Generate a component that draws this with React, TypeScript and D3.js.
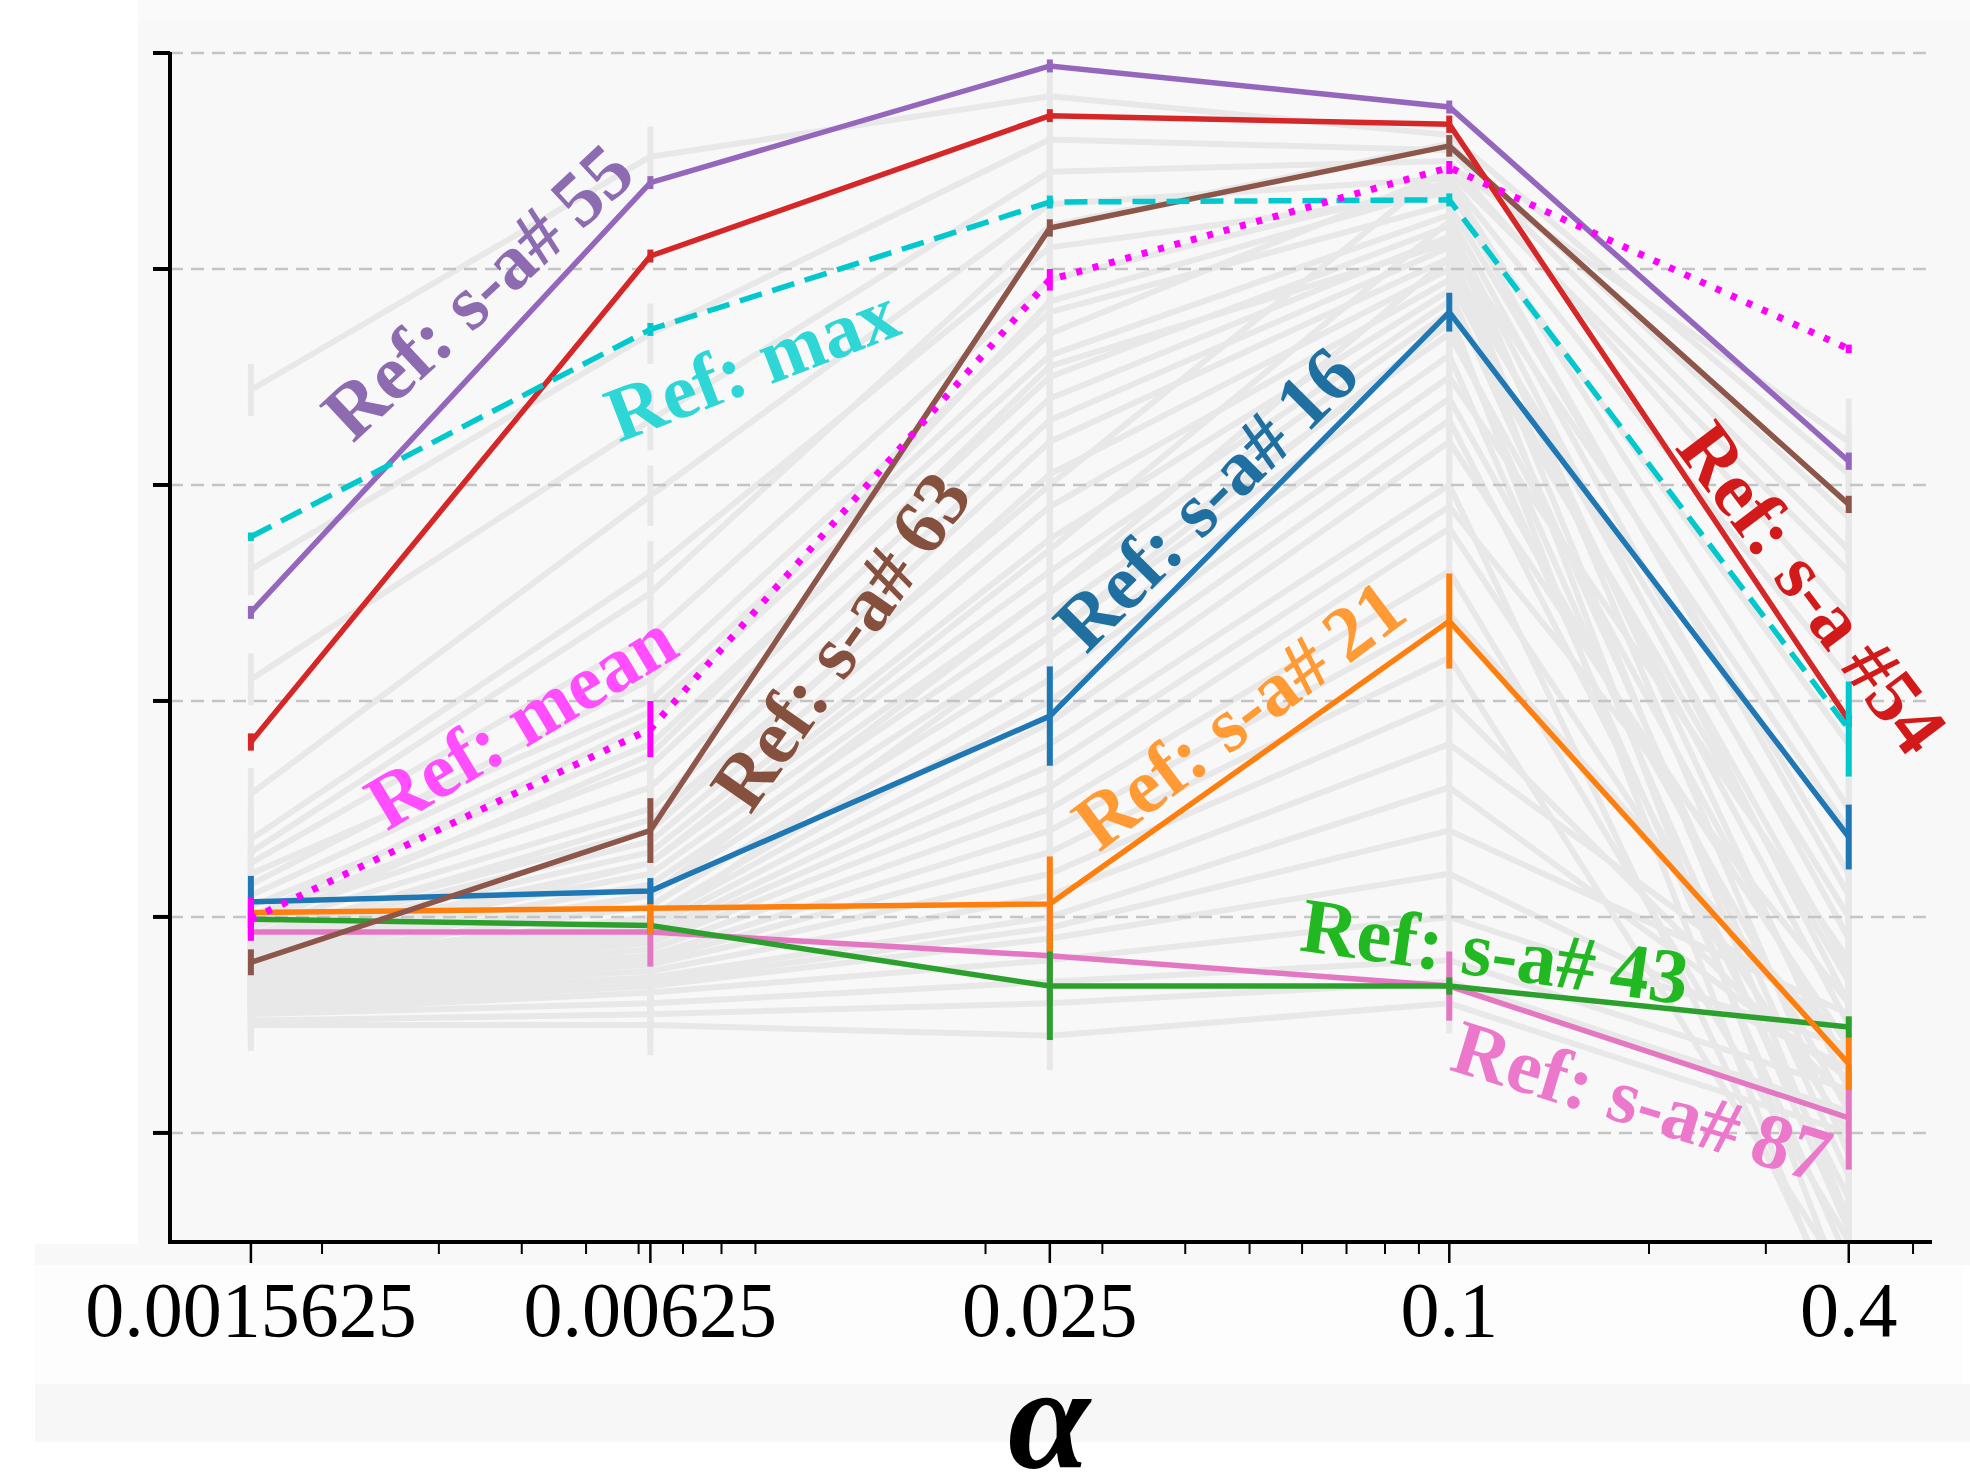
import React from 'react';
import * as d3 from 'd3';

const W = 1970;
const H = 1478;

// x categories (alpha, log axis)
const alphas = [0.0015625, 0.00625, 0.025, 0.1, 0.4];
const alphaLabels = ['0.0015625', '0.00625', '0.025', '0.1', '0.4'];
const yTicks = [0, 1, 2, 3, 4, 5];

// highlighted reference series (arbitrary y units)
const sa16 = [1.07, 1.12, 1.93, 3.80, 1.37];
const sa16Err = [0.12, 0.06, 0.23, 0.09, 0.15];
const sa21 = [1.02, 1.04, 1.06, 2.37, 0.32];
const sa21Err = [0.08, 0.12, 0.22, 0.22, 0.12];
const sa43 = [0.99, 0.96, 0.68, 0.68, 0.49];
const sa43Err = [0.04, 0.04, 0.25, 0.04, 0.05];
const sa54 = [1.81, 4.06, 4.71, 4.67, 1.91];
const sa54Err = [0.04, 0.03, 0.03, 0.04, 0.03];
const sa55 = [2.41, 4.40, 4.94, 4.75, 3.11];
const sa55Err = [0.03, 0.03, 0.03, 0.03, 0.04];
const sa63 = [0.79, 1.40, 4.19, 4.57, 2.91];
const sa63Err = [0.06, 0.15, 0.04, 0.05, 0.04];
const sa87 = [0.93, 0.93, 0.82, 0.68, 0.07];
const sa87Err = [0.04, 0.16, 0.23, 0.16, 0.24];
const refMax = [2.76, 3.72, 4.31, 4.32, 1.87];
const refMaxErr = [0.02, 0.03, 0.03, 0.03, 0.22];
const refMean = [0.99, 1.87, 3.95, 4.47, 3.63];
const refMeanErr = [0.10, 0.13, 0.05, 0.03, 0.02];

// background (other reference) series
const gray01 = [3.44, 4.52, 4.80, 4.62, 3.05];
const gray02 = [2.61, 3.70, 4.60, 4.55, 2.70];
const gray03 = [2.10, 3.30, 4.45, 4.50, 2.40];
const gray04 = [1.57, 2.95, 4.30, 4.42, 2.10];
const gray05 = [1.36, 2.60, 4.10, 4.35, 1.80];
const gray06 = [1.25, 2.30, 3.95, 4.40, 1.50];
const gray07 = [1.15, 2.10, 3.80, 4.30, 1.20];
const gray08 = [1.10, 1.95, 3.60, 4.25, 0.90];
const gray09 = [1.05, 1.80, 3.50, 4.20, 0.60];
const gray10 = [1.00, 1.70, 3.40, 4.15, 0.20];
const gray11 = [0.98, 1.60, 3.30, 4.10, -0.40];
const gray12 = [0.95, 1.50, 3.20, 4.05, -0.80];
const gray13 = [0.92, 1.40, 3.05, 4.00, 1.00];
const gray14 = [0.90, 1.35, 2.90, 3.95, 0.50];
const gray15 = [0.88, 1.30, 2.75, 3.90, -0.20];
const gray16 = [0.86, 1.25, 2.60, 3.85, 0.70];
const gray17 = [0.85, 1.20, 2.50, 3.80, -1.00];
const gray18 = [0.83, 1.15, 2.40, 3.70, 0.30];
const gray19 = [0.82, 1.10, 2.30, 3.60, -0.60];
const gray20 = [0.80, 1.05, 2.20, 3.50, 0.80];
const gray21 = [0.78, 1.00, 2.10, 3.40, 0.10];
const gray22 = [0.77, 0.98, 2.00, 3.30, -0.30];
const gray23 = [0.75, 0.95, 1.90, 3.20, 0.40];
const gray24 = [0.74, 0.92, 1.80, 3.00, -0.90];
const gray25 = [0.72, 0.90, 1.70, 2.90, 0.60];
const gray26 = [0.70, 0.88, 1.60, 2.80, 0.00];
const gray27 = [0.69, 0.85, 1.50, 2.60, -0.50];
const gray28 = [0.68, 0.82, 1.40, 2.40, 0.35];
const gray29 = [0.66, 0.80, 1.30, 2.20, -0.70];
const gray30 = [0.65, 0.78, 1.20, 2.00, 0.15];
const gray31 = [0.64, 0.75, 1.10, 1.80, 0.45];
const gray32 = [0.62, 0.72, 1.00, 1.60, 0.25];
const gray33 = [0.60, 0.70, 0.95, 1.40, 0.55];
const gray34 = [0.58, 0.68, 0.90, 1.20, 0.30];
const gray35 = [0.56, 0.65, 0.80, 1.00, 0.40];
const gray36 = [0.55, 0.60, 0.70, 0.80, 0.20];
const gray37 = [0.52, 0.55, 0.60, 0.70, 0.10];
const gray38 = [0.50, 0.50, 0.45, 0.60, 0.00];
const gray39 = [1.20, 2.00, 3.70, 4.45, 2.60];
const gray40 = [1.30, 2.50, 4.20, 4.58, 2.85];
const gray41 = [0.90, 1.45, 3.00, 4.48, 3.20];
const gray42 = [1.00, 1.90, 3.85, 4.38, 1.10];
const gray43 = [0.80, 1.25, 2.70, 4.22, -0.10];
const gray44 = [0.75, 1.10, 2.50, 4.05, 0.75];
const gray45 = [0.70, 0.95, 2.30, 3.75, -0.45];
const gray46 = [0.95, 1.75, 3.55, 4.12, 1.40];
const grayErr = [0.12, 0.14, 0.16, 0.14, 0.2];

const grays = [gray01, gray02, gray03, gray04, gray05, gray06, gray07, gray08, gray09, gray10,
  gray11, gray12, gray13, gray14, gray15, gray16, gray17, gray18, gray19, gray20,
  gray21, gray22, gray23, gray24, gray25, gray26, gray27, gray28, gray29, gray30,
  gray31, gray32, gray33, gray34, gray35, gray36, gray37, gray38, gray39, gray40,
  gray41, gray42, gray43, gray44, gray45, gray46];

type Series = { v: number[]; e: number[]; color: string; dash?: string; w: number };

const highlighted: Series[] = [
  { v: sa87, e: sa87Err, color: '#e377c2', w: 5.5 },
  { v: sa43, e: sa43Err, color: '#2ca02c', w: 5.5 },
  { v: sa21, e: sa21Err, color: '#ff7f0e', w: 5.5 },
  { v: sa16, e: sa16Err, color: '#1f77b4', w: 5.5 },
  { v: sa63, e: sa63Err, color: '#8c564b', w: 5.5 },
  { v: sa54, e: sa54Err, color: '#d62728', w: 5.5 },
  { v: sa55, e: sa55Err, color: '#9467bd', w: 5.5 },
  { v: refMax, e: refMaxErr, color: '#00c8cc', dash: '23,11', w: 5.5 },
  { v: refMean, e: refMeanErr, color: '#ff00ff', dash: '6,11', w: 7 },
];

// label text, anchor position in full-size pixels, rotation, colour
const labelTexts = ['Ref: s-a#\u200955', 'Ref: max', 'Ref: mean', 'Ref: s-a#\u200963', 'Ref: s-a#\u200916', 'Ref: s-a#\u200921', 'Ref: s-a#\u200943', 'Ref: s-a#\u200987', 'Ref: s-a\u2009#54'];
const labelColors = ['#8c6bb1', '#2fd6d6', '#ff4dff', '#86503f', '#1f6fa0', '#ff9a35', '#22b822', '#ec78cc', '#d21a1a'];
const labelPos: [number, number, number][] = [
  [478, 292, -43],
  [752, 364, -21],
  [521, 721, -31],
  [841, 641, -55],
  [1206, 499, -45],
  [1239, 715, -37],
  [1495, 952, 8],
  [1642, 1102, 17],
  [1812, 588, 53],
];

export default function App() {
  const x = d3.scaleLog().domain([0.00118, 0.534]).range([170, 1932]);
  const y = d3.scaleLinear().domain([-0.505, 5]).range([1242, 53]);
  const line = d3
    .line<number>()
    .x((_, i) => x(alphas[i]))
    .y((d) => y(d));

  const majorSet = alphas.map((a) => Math.log10(a));
  const minorTicks = x
    .ticks(40)
    .filter((t) => {
      const l = Math.log10(t);
      if (Math.abs(l - Math.round(l)) < 1e-9) return false;
      return !majorSet.some((m) => Math.abs(m - l) < 1e-6);
    });

  const serif = "'Liberation Serif', 'DejaVu Serif', serif";
  const [x0, x1] = x.range();
  const [yb, yt] = y.range();

  return (
    <svg width={W} height={H} viewBox={`0 0 ${W} ${H}`} style={{ position: 'absolute', left: 0, top: 0, display: 'block' }}>
      <defs>
        <clipPath id="plotclip">
          <rect x={x0} y={0} width={x1 - x0} height={yb} />
        </clipPath>
      </defs>
      <rect x={0} y={0} width={W} height={H} fill="#ffffff" />
      <rect x={138} y={0} width={W - 138} height={20} fill="#fafafa" />
      <rect x={138} y={20} width={W - 138} height={1224} fill="#f8f8f8" />
      <rect x={35} y={1244} width={W - 35} height={21} fill="#f8f8f8" />
      <rect x={35} y={1265} width={1928} height={119} fill="#fdfdfd" />
      <rect x={35} y={1384} width={W - 35} height={58} fill="#f7f7f7" />

      {/* background reference series */}
      <g clipPath="url(#plotclip)">
        {grays.map((g, k) => (
          <g key={`g${k}`}>
            <path d={line(g) || ''} fill="none" stroke="#e8e8e8" strokeWidth={6} strokeLinejoin="round" />
            {g.map((v, i) => (
              <line key={i} x1={x(alphas[i])} x2={x(alphas[i])} y1={y(v - grayErr[i])} y2={y(v + grayErr[i])} stroke="#e8e8e8" strokeWidth={6} />
            ))}
          </g>
        ))}
      </g>

      {/* grid */}
      {yTicks.map((t) => (
        <line key={`gr${t}`} x1={x0} x2={1930} y1={y(t)} y2={y(t)} stroke="#c4c4c4" strokeWidth={2.5} strokeDasharray="13,8" />
      ))}

      {/* highlighted series */}
      <g clipPath="url(#plotclip)">
        {highlighted.map((s, k) => (
          <g key={`h${k}`}>
            {s.v.map((v, i) => (
              <line key={i} x1={x(alphas[i])} x2={x(alphas[i])} y1={y(v - s.e[i])} y2={y(v + s.e[i])} stroke={s.color} strokeWidth={6} />
            ))}
            <path d={line(s.v) || ''} fill="none" stroke={s.color} strokeWidth={s.w} strokeDasharray={s.dash} strokeLinejoin="miter" />
          </g>
        ))}
      </g>

      {/* axes */}
      <line x1={x0} x2={x0} y1={yt - 1} y2={yb + 2} stroke="#000" strokeWidth={4} />
      <line x1={x0 - 2} x2={x1} y1={yb} y2={yb} stroke="#000" strokeWidth={4} />
      {yTicks.map((t) => (
        <line key={`yt${t}`} x1={x0 - 17} x2={x0} y1={y(t)} y2={y(t)} stroke="#000" strokeWidth={4} />
      ))}
      {alphas.map((a) => (
        <line key={`xt${a}`} x1={x(a)} x2={x(a)} y1={yb} y2={yb + 21} stroke="#000" strokeWidth={2.5} />
      ))}
      {minorTicks.map((t) => (
        <line key={`mt${t}`} x1={x(t)} x2={x(t)} y1={yb} y2={yb + 12} stroke="#000" strokeWidth={2} />
      ))}
      {alphas.map((a, i) => (
        <text key={`xl${a}`} x={x(a)} y={1336} textAnchor="middle" fontFamily={serif} fontSize={78} fill="#000">
          {alphaLabels[i]}
        </text>
      ))}
      <text x={1049} y={1468} textAnchor="middle" fontFamily={serif} fontStyle="italic" fontWeight="bold" fontSize={148} fill="#000">
        α
      </text>

      {/* labels */}
      {labelTexts.map((t, i) => (
        <text
          key={`lb${i}`}
          transform={`translate(${labelPos[i][0]},${labelPos[i][1]}) rotate(${labelPos[i][2]})`}
          textAnchor="middle"
          dy="0.33em"
          fontFamily={serif}
          fontWeight="bold"
          fontSize={78}
          fill={labelColors[i]}
        >
          {t}
        </text>
      ))}
    </svg>
  );
}
